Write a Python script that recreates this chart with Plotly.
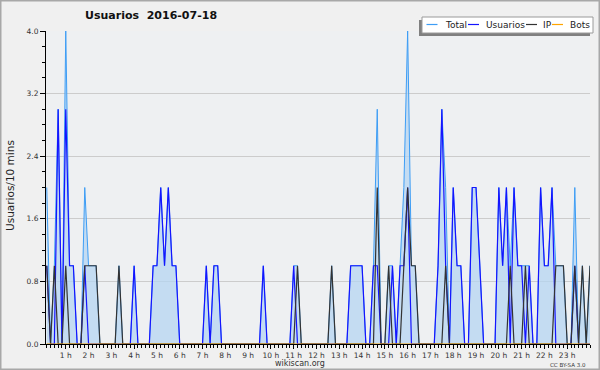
import plotly.graph_objects as go

# 10-minute slots of 2016-07-18 (144 slots)
slots = list(range(144))
hour_labels = [f"{h} h" for h in range(1, 24)]
hour_label_slots = [6 * h - 1 for h in range(1, 24)]
y_ticks = [0.0, 0.8, 1.6, 2.4, 3.2, 4.0]
y_tick_labels = ["0.0", "0.8", "1.6", "2.4", "3.2", "4.0"]

total = [
    2, 0, 1, 3, 0, 4, 1, 1, 0, 0, 2, 1,
    1, 1, 0, 0, 0, 0, 0, 1, 0, 0, 0, 1,
    0, 0, 0, 0, 1, 1, 2, 1, 2, 1, 1, 0,
    0, 0, 0, 0, 0, 0, 1, 0, 1, 1, 0, 0,
    0, 0, 0, 0, 0, 0, 0, 0, 0, 1, 0, 0,
    0, 0, 0, 0, 0, 1, 1, 0, 0, 0, 0, 0,
    0, 0, 0, 1, 0, 0, 0, 0, 1, 1, 1, 1,
    0, 0, 1, 3, 0, 0, 1, 1, 0, 1, 2, 4,
    1, 1, 0, 0, 0, 0, 0, 1, 3, 2, 0, 2,
    1, 1, 0, 0, 2, 2, 1, 0, 0, 0, 0, 2,
    1, 2, 1, 2, 1, 1, 1, 1, 0, 0, 2, 1,
    1, 2, 1, 1, 1, 0, 0, 2, 0, 1, 0, 1,
]
usuarios = [
    1, 0, 0, 3, 0, 3, 1, 1, 0, 0, 1, 0,
    0, 0, 0, 0, 0, 0, 0, 0, 0, 0, 0, 1,
    0, 0, 0, 0, 1, 1, 2, 1, 2, 1, 1, 0,
    0, 0, 0, 0, 0, 0, 1, 0, 1, 1, 0, 0,
    0, 0, 0, 0, 0, 0, 0, 0, 0, 1, 0, 0,
    0, 0, 0, 0, 0, 1, 0, 0, 0, 0, 0, 0,
    0, 0, 0, 0, 0, 0, 0, 0, 1, 1, 1, 1,
    0, 0, 1, 1, 0, 0, 0, 1, 0, 1, 1, 2,
    0, 0, 0, 0, 0, 0, 0, 1, 3, 1, 0, 2,
    1, 1, 0, 0, 2, 2, 1, 0, 0, 0, 0, 2,
    1, 2, 0, 2, 1, 1, 0, 1, 0, 0, 2, 1,
    1, 2, 0, 0, 0, 0, 0, 1, 0, 0, 0, 0,
]
ip = [
    1, 0, 1, 0, 0, 1, 0, 0, 0, 0, 1, 1,
    1, 1, 0, 0, 0, 0, 0, 1, 0, 0, 0, 0,
    0, 0, 0, 0, 0, 0, 0, 0, 0, 0, 0, 0,
    0, 0, 0, 0, 0, 0, 0, 0, 0, 0, 0, 0,
    0, 0, 0, 0, 0, 0, 0, 0, 0, 0, 0, 0,
    0, 0, 0, 0, 0, 0, 1, 0, 0, 0, 0, 0,
    0, 0, 0, 1, 0, 0, 0, 0, 0, 0, 0, 0,
    0, 0, 0, 2, 0, 0, 1, 0, 0, 0, 1, 2,
    1, 1, 0, 0, 0, 0, 0, 0, 0, 1, 0, 0,
    0, 0, 0, 0, 0, 0, 0, 0, 0, 0, 0, 0,
    0, 0, 1, 0, 0, 0, 1, 0, 0, 0, 0, 0,
    0, 0, 1, 1, 1, 0, 0, 1, 0, 1, 0, 1,
]
bots = [0] * 144

C_TOTAL = "#3d9df5"
C_USU = "#1414ff"
C_IP = "#333333"
C_BOTS = "#ffa500"
FONT = "DejaVu Sans"

W, H = 600, 370
ML, MR, MT, MB = 46, 10, 31, 26
PW, PH = W - ML - MR, H - MT - MB


def px(x):
    return (x - ML) / PW


def py(y):
    return (H - MB - y) / PH


fig = go.Figure()
fig.add_trace(go.Scatter(x=slots, y=total, mode="lines", name="Total",
                         line=dict(color=C_TOTAL, width=1),
                         fill="tozeroy", fillcolor="rgba(181,213,241,0.75)"))
fig.add_trace(go.Scatter(x=slots, y=usuarios, mode="lines", name="Usuarios",
                         line=dict(color=C_USU, width=1.2)))
fig.add_trace(go.Scatter(x=slots, y=ip, mode="lines", name="IP",
                         line=dict(color=C_IP, width=1.2)))
fig.add_trace(go.Scatter(x=slots, y=bots, mode="lines", name="Bots",
                         line=dict(color=C_BOTS, width=1)))

shapes = [
    # outer frame
    dict(type="rect", xref="paper", yref="paper", x0=px(0.75), x1=px(W - 0.75),
         y0=py(0.75), y1=py(H - 0.75), line=dict(color="#a8a8a8", width=1.5),
         layer="above"),
    # legend shadow + box
    dict(type="rect", xref="paper", yref="paper", x0=px(419), x1=px(590),
         y0=py(36), y1=py(20), fillcolor="#808080", line=dict(width=0), layer="above"),
    dict(type="rect", xref="paper", yref="paper", x0=px(422), x1=px(593),
         y0=py(33), y1=py(17), fillcolor="#ffffff", line=dict(color="#9a9a9a", width=1),
         layer="above"),
]
annotations = []
legend_items = [("Total", C_TOTAL, 426.5, 442.5), ("Usuarios", C_USU, 468, 484),
                ("IP", C_IP, 526, 541), ("Bots", C_BOTS, 552, 568)]
for name, col, lx, tx in legend_items:
    shapes.append(dict(type="line", xref="paper", yref="paper", x0=px(lx), x1=px(lx + 11),
                       y0=py(24.5), y1=py(24.5), line=dict(color=col, width=1.2), layer="above"))
    annotations.append(dict(text=name, xref="paper", yref="paper", x=px(tx), y=py(24.5),
                            xanchor="left", yanchor="middle", showarrow=False,
                            font=dict(family=FONT, size=9, color="#222222")))

annotations += [
    dict(text="<b>Usuarios\u00a0\u00a02016-07-18</b>", xref="paper", yref="paper",
         x=px(151), y=py(16), xanchor="center", yanchor="middle", showarrow=False,
         font=dict(family=FONT, size=11, color="#111111")),
    dict(text="wikiscan.org", xref="paper", yref="paper", x=px(300), y=py(363),
         xanchor="center", yanchor="middle", showarrow=False,
         font=dict(family=FONT, size=8, color="#333333")),
    dict(text="CC BY-SA 3.0", xref="paper", yref="paper", x=px(568), y=py(365),
         xanchor="center", yanchor="middle", showarrow=False,
         font=dict(family=FONT, size=5.5, color="#333333")),
    dict(text="Usuarios/10 mins", xref="paper", yref="paper", x=px(10), y=py(186),
         xanchor="center", yanchor="middle", showarrow=False, textangle=-90,
         font=dict(family=FONT, size=10.5, color="#222222")),
]

fig.update_layout(
    width=W, height=H,
    margin=dict(l=ML, r=MR, t=MT, b=MB, pad=0),
    paper_bgcolor="#f0f0f0", plot_bgcolor="#eef0f2",
    showlegend=False,
    font=dict(family=FONT, size=8, color="#333333"),
    shapes=shapes, annotations=annotations,
    xaxis=dict(range=[-0.2, 143], showgrid=False, zeroline=False,
               showline=True, linecolor="#000000", linewidth=1,
               tickmode="array", tickvals=hour_label_slots, ticktext=hour_labels,
               ticks="outside", ticklen=4, tickcolor="#000000", tickwidth=1,
               tickfont=dict(family=FONT, size=7.5, color="#333333"),
               minor=dict(tickmode="linear", tick0=0, dtick=1, ticks="outside",
                          ticklen=3, tickcolor="#000000", showgrid=False)),
    yaxis=dict(range=[0, 4], showgrid=True, gridcolor="#cccccc", gridwidth=1,
               zeroline=False, showline=True, linecolor="#000000", linewidth=1,
               tickmode="array", tickvals=y_ticks, ticktext=y_tick_labels,
               ticks="outside", ticklen=5, tickcolor="#000000",
               tickfont=dict(family=FONT, size=7.5, color="#333333"),
               minor=dict(tickmode="linear", tick0=0, dtick=0.2, ticks="outside",
                          ticklen=3, tickcolor="#000000", showgrid=False)),
)

fig.write_html(
    "out.html",
    config={"displayModeBar": False},
    post_script="document.body.style.margin='0px';document.body.style.overflow='hidden';",
)
